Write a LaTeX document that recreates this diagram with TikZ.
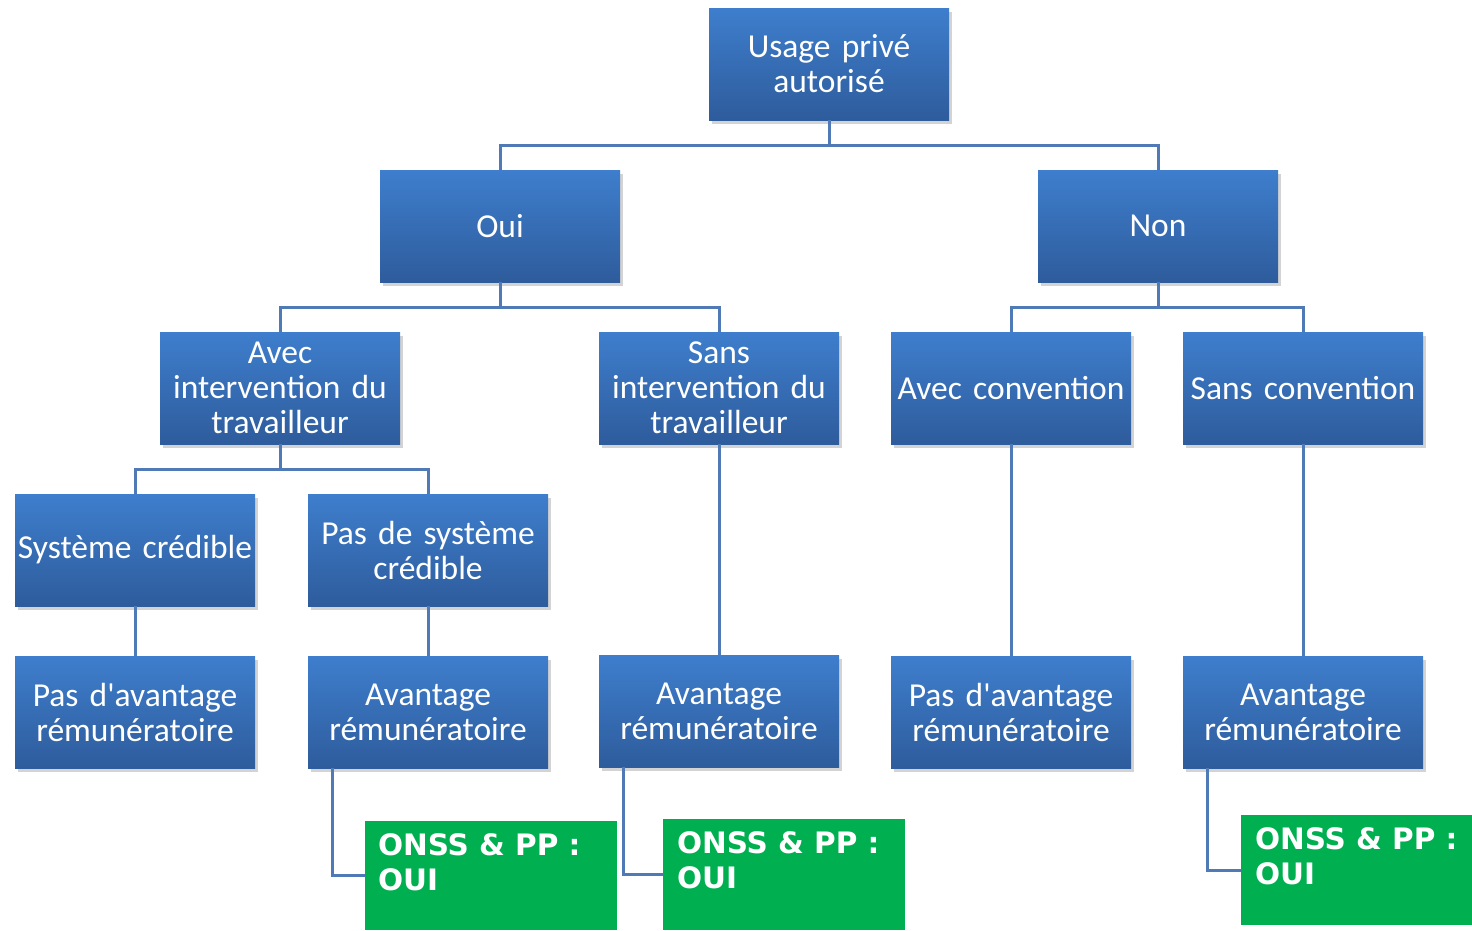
\documentclass[tikz,border=0pt]{standalone}
\usepackage{fontspec}
\newfontfamily\boxfont{Carlito}[WordSpace=0.55]
\newfontfamily\onssfont{DejaVu Sans}
\usetikzlibrary{shadows}
\definecolor{boxtop}{RGB}{62,126,205}
\definecolor{boxbot}{RGB}{46,92,156}
\definecolor{linkcol}{RGB}{79,122,182}
\definecolor{onssgreen}{RGB}{0,176,80}
\tikzset{
	bluebox/.style={rectangle, top color=boxtop, bottom color=boxbot, draw=none,
		minimum width=240pt, minimum height=112pt, inner sep=0pt,
		text width=236pt, align=center, text=white,
		font=\boxfont\fontsize{33.5}{35}\selectfont,
		drop shadow={opacity=0.35, shadow xshift=3pt, shadow yshift=-4pt}},
	greenbox/.style={rectangle, fill=onssgreen, draw=none, inner sep=0pt},
	greentext/.style={anchor=north west, inner sep=0pt, text=white, align=left,
		font=\onssfont\bfseries\fontsize{29.5}{35}\selectfont},
	link/.style={draw=linkcol, line width=3pt}
}
\begin{document}
\begin{tikzpicture}[x=1pt,y=-1pt]
	\useasboundingbox (0,0) rectangle (1472,930);

	% boxes
	\node[bluebox] (usage) at (829,64) {Usage privé\\autorisé};
	\node[bluebox] (oui) at (500,226) {Oui};
	\node[bluebox] (non) at (1158,226) {Non};
	\node[bluebox] (avecint) at (280,388) {Avec\\intervention du\\travailleur};
	\node[bluebox] (sansint) at (719,388) {Sans\\intervention du\\travailleur};
	\node[bluebox] (avecconv) at (1011,388) {Avec convention};
	\node[bluebox] (sansconv) at (1303,388) {Sans convention};
	\node[bluebox] (syscred) at (135,550) {Système crédible};
	\node[bluebox] (nosys) at (428,550) {Pas de système\\crédible};
	\node[bluebox] (av1) at (135,712) {Pas d'avantage\\rémunératoire};
	\node[bluebox] (av2) at (428,712) {Avantage\\rémunératoire};
	\node[bluebox] (av3) at (719,711) {Avantage\\rémunératoire};
	\node[bluebox] (av4) at (1011,712) {Pas d'avantage\\rémunératoire};
	\node[bluebox] (av5) at (1303,712) {Avantage\\rémunératoire};

	% green boxes
	\node[greenbox, minimum width=252pt, minimum height=109pt] (onss1) at (491,875.5) {};
	\node[greenbox, minimum width=242pt, minimum height=111pt] (onss2) at (784,874.5) {};
	\node[greenbox, minimum width=231pt, minimum height=110pt] (onss3) at (1356.5,870) {};
	\node[greentext] (onss1t) at ([xshift=13pt,yshift=-13pt]onss1.north west) {ONSS \& PP :\\OUI};
	\node[greentext] (onss2t) at ([xshift=14pt,yshift=-13pt]onss2.north west) {ONSS \& PP :\\OUI};
	\node[greentext] (onss3t) at ([xshift=14pt,yshift=-13pt]onss3.north west) {ONSS \& PP :\\OUI};

	% connectors
	\draw[link] (usage.south) -- ++(0,25) -| (oui.north);
	\draw[link] (usage.south) -- ++(0,25) -| (non.north);
	\draw[link] (oui.south) -- ++(0,25) -| (avecint.north);
	\draw[link] (oui.south) -- ++(0,25) -| (sansint.north);
	\draw[link] (non.south) -- ++(0,25) -| (avecconv.north);
	\draw[link] (non.south) -- ++(0,25) -| (sansconv.north);
	\draw[link] (avecint.south) -- ++(0,25) -| (syscred.north);
	\draw[link] (avecint.south) -- ++(0,25) -| (nosys.north);
	\draw[link] (syscred) -- (av1);
	\draw[link] (nosys) -- (av2);
	\draw[link] (sansint) -- (av3);
	\draw[link] (avecconv) -- (av4);
	\draw[link] (sansconv) -- (av5);
	\draw[link] ([xshift=-96pt]av2.south) |- (onss1.west);
	\draw[link] ([xshift=-96pt]av3.south) |- (onss2.west);
	\draw[link] ([xshift=-96pt]av5.south) |- (onss3.west);
\end{tikzpicture}
\end{document}
